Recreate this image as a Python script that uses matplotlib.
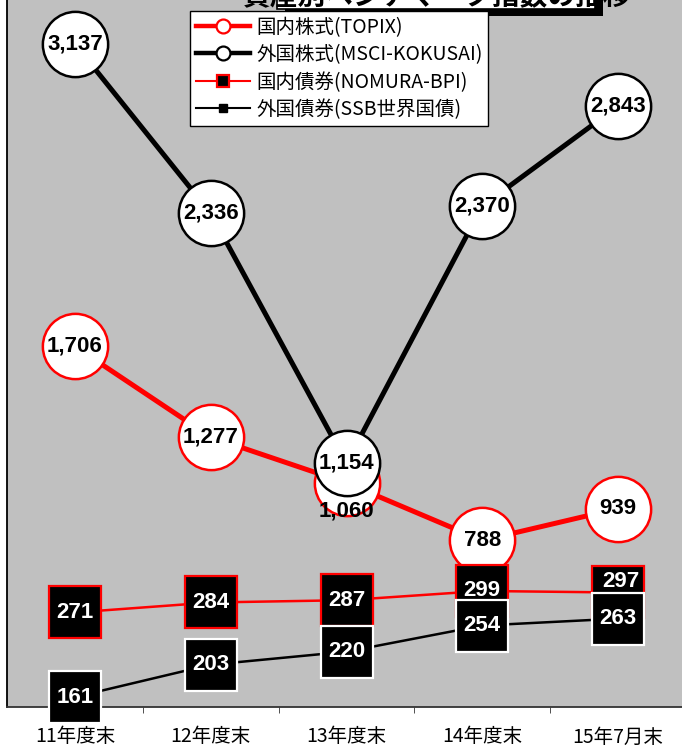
import matplotlib.pyplot as plt
from matplotlib.lines import Line2D
from matplotlib.patches import Rectangle

categories = ['11年度末', '12年度末', '13年度末', '14年度末', '15年7月末']
topix = [1706, 1277, 1060, 788, 939]
msci = [3137, 2336, 1154, 2370, 2843]
nomura = [271, 284, 287, 299, 297]
ssb = [161, 203, 220, 254, 263]
series_names = ['国内株式(TOPIX)', '外国株式(MSCI-KOKUSAI)',
                '国内債券(NOMURA-BPI)', '外国債券(SSB世界国債)']
title = '資産別ベンチマーク指数の推移'

plt.rcParams['font.family'] = ['Noto Sans CJK JP', 'DejaVu Sans']
num_font = ['Liberation Sans Narrow', 'Liberation Sans', 'DejaVu Sans']
lab_size = 16

W, H = 682, 747
fig = plt.figure(figsize=(W / 100, H / 100), dpi=100)
ax = fig.add_axes([7 / W, 40 / H, 679 / W, 707 / H])
ax.set_facecolor('#c0c0c0')
x = list(range(len(categories)))

# stocks (primary axis)
ax.plot(x, topix, color='red', lw=3.6, marker='o', ms=47, mfc='white',
        mec='red', mew=1.8, zorder=2, clip_on=False)
ax.plot(x, msci, color='black', lw=3.6, marker='o', ms=47, mfc='white',
        mec='black', mew=1.8, zorder=3, clip_on=False)
for i, v in enumerate(topix):
    dy = -20 if i == 2 else 0
    ax.annotate(f'{v:,}', (i, v), xytext=(0, dy), textcoords='offset points',
                ha='center', va='center', fontsize=lab_size, fontweight='bold',
                family=num_font, zorder=5)
for i, v in enumerate(msci):
    ax.annotate(f'{v:,}', (i, v), ha='center', va='center', fontsize=lab_size,
                fontweight='bold', family=num_font, zorder=5)

ax.set_xlim(-0.5, len(categories) - 0.5)
ax.set_ylim(0, 3345)
ax.set_yticks([])
ax.set_xticks(x, categories)
ax.set_xticks([i + 0.5 for i in x[:-1]], minor=True)
ax.tick_params(axis='x', which='major', length=0, pad=14, labelsize=14)
ax.tick_params(axis='x', which='minor', length=4, direction='out', color='#333333')
for s in ['top', 'right']:
    ax.spines[s].set_visible(False)
ax.spines['left'].set_linewidth(1.3)
ax.spines['bottom'].set_linewidth(1.3)
ax.spines['bottom'].set_color('#333333')

# bonds (secondary axis)
ax2 = ax.twinx()
ax2.plot(x, nomura, color='red', lw=1.8, marker='s', ms=38, mfc='black',
         mec='red', mew=1.6, zorder=2, clip_on=False)
for i, v in enumerate(nomura):
    dx, dy = (2, 8) if i == 4 else (0, 0)
    ax2.annotate(str(v), (i, v), xytext=(dx, dy), textcoords='offset points',
                 ha='center', va='center', fontsize=lab_size, fontweight='bold',
                 color='white', family=num_font, zorder=3)
ax2.plot(x, ssb, color='black', lw=1.8, marker='s', ms=38, mfc='black',
         mec='white', mew=1.6, zorder=4, clip_on=False)
for i, v in enumerate(ssb):
    ax2.annotate(str(v), (i, v), ha='center', va='center', fontsize=lab_size,
                 fontweight='bold', color='white', family=num_font, zorder=5)
ax2.set_ylim(148, 1068)
ax2.set_yticks([])
for s in ax2.spines.values():
    s.set_visible(False)

# title box, mostly cut off at the top
fig.add_artist(Rectangle((285 / W, 1 - 16 / H), 318 / W, 60 / H,
                         transform=fig.transFigure, facecolor='black',
                         edgecolor='none', zorder=6))
fig.add_artist(Rectangle((277 / W, 1 - 9 / H), 318 / W, 60 / H,
                         transform=fig.transFigure, facecolor='white',
                         edgecolor='black', lw=1.2, zorder=7))
fig.text(436 / W, 1 - 5 / H, title, ha='center', va='baseline', fontsize=20,
         fontweight='bold', zorder=8)

handles = [
    Line2D([], [], color='red', lw=3.2, marker='o', ms=10, mfc='white', mec='red', mew=1.6),
    Line2D([], [], color='black', lw=3.2, marker='o', ms=10, mfc='white', mec='black', mew=1.6),
    Line2D([], [], color='red', lw=1.5, marker='s', ms=9, mfc='black', mec='red', mew=1.6),
    Line2D([], [], color='black', lw=1.5, marker='s', ms=6, mfc='black', mec='black'),
]
leg = fig.legend(handles, series_names, loc='upper left',
                 bbox_to_anchor=(190 / W, 1 - 11 / H), borderaxespad=0,
                 fontsize=14, handlelength=2.8, handletextpad=0.3,
                 labelspacing=0.33, borderpad=0.3, fancybox=False,
                 framealpha=1, edgecolor='black')
leg.get_frame().set_linewidth(1.0)
leg.set_zorder(10)

fig.savefig('out.png', dpi=100)
